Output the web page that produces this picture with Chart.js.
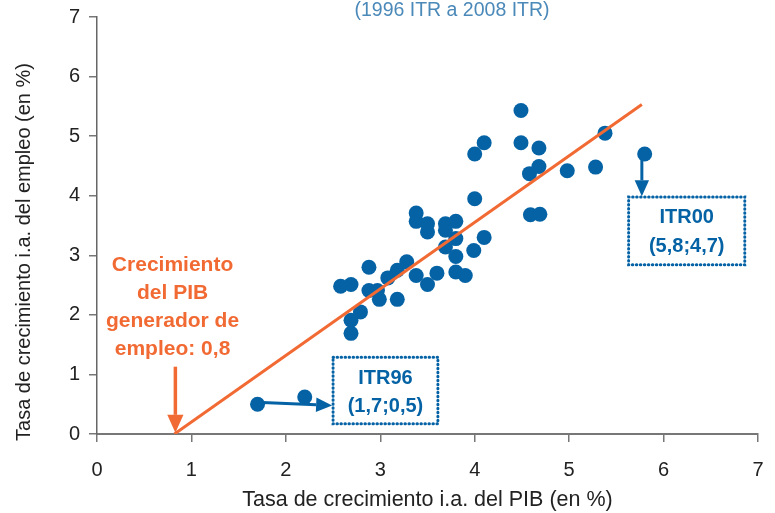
<!DOCTYPE html>
<html lang="es">
<head>
<meta charset="utf-8">
<script src="https://cdn.jsdelivr.net/npm/chart.js@4/dist/chart.umd.min.js"></script>
<style>
  html, body { margin: 0; padding: 0; background: #fff; }
  #wrap { width: 775px; height: 513px; }
</style>
</head>
<body>
<div id="wrap"><canvas id="chart"></canvas></div>
<script>
// crecimiento i.a. del PIB (x) y del empleo (y), trimestres 1996-2008
const pibX = [1.70, 2.20, 2.69, 2.69, 2.79, 2.58, 2.69, 2.88, 2.88, 2.97, 2.99, 3.18,
              3.08, 3.18, 3.28, 3.38, 3.50, 3.60, 3.38, 3.38, 3.50, 3.50, 3.69, 3.80,
              3.69, 3.80, 3.69, 3.80, 3.99, 3.80, 3.90, 4.10, 4.00, 4.00, 4.10, 4.49,
              4.49, 4.58, 4.68, 4.68, 4.98, 5.28, 5.38, 5.80, 4.59, 4.69];
const empleoY = [0.50, 0.62, 1.69, 1.91, 2.05, 2.48, 2.51, 2.80, 2.41, 2.41, 2.26, 2.26,
                 2.62, 2.75, 2.89, 2.66, 2.51, 2.70, 3.71, 3.57, 3.53, 3.39, 3.53, 3.57,
                 3.42, 3.28, 3.14, 2.98, 3.08, 2.72, 2.66, 3.30, 3.95, 4.70, 4.89, 5.43,
                 4.89, 4.37, 4.80, 4.49, 4.42, 4.48, 5.05, 4.70, 3.68, 3.69];

// recta de ajuste: corta el eje x en 0,8
const ajusteX = [0.82, 5.77];
const ajusteY = [0, 5.53];

const xTicks = [0, 1, 2, 3, 4, 5, 6, 7];
const yTicks = [0, 1, 2, 3, 4, 5, 6, 7];

const subtitulo = '(1996 ITR a 2008 ITR)';
const tituloY = 'Tasa de crecimiento i.a. del empleo (en %)';
const notaPib = ['Crecimiento', 'del PIB', 'generador de', 'empleo: 0,8'];
const nota96 = ['ITR96', '(1,7;0,5)'];
const nota00 = ['ITR00', '(5,8;4,7)'];

const azul = '#0563a5';
const naranja = '#f26a33';
const fuente = "'Liberation Sans', Arial, sans-serif";

function flecha(ctx, x1, y1, x2, y2, color, ancho, punta) {
    const ang = Math.atan2(y2 - y1, x2 - x1);
    const bx = x2 - Math.cos(ang) * punta;
    const by = y2 - Math.sin(ang) * punta;
    ctx.save();
    ctx.strokeStyle = color;
    ctx.fillStyle = color;
    ctx.lineWidth = ancho;
    ctx.beginPath();
    ctx.moveTo(x1, y1);
    ctx.lineTo(bx, by);
    ctx.stroke();
    ctx.beginPath();
    ctx.moveTo(x2, y2);
    ctx.lineTo(bx + Math.sin(ang) * punta * 0.45, by - Math.cos(ang) * punta * 0.45);
    ctx.lineTo(bx - Math.sin(ang) * punta * 0.45, by + Math.cos(ang) * punta * 0.45);
    ctx.closePath();
    ctx.fill();
    ctx.restore();
}

function caja(ctx, x1, y1, x2, y2, lineas, filas, sy) {
    ctx.save();
    ctx.strokeStyle = azul;
    ctx.lineWidth = 3;
    ctx.lineCap = 'round';
    ctx.setLineDash([0.5, 3.5]);
    ctx.strokeRect(x1, y1, x2 - x1, y2 - y1);
    ctx.setLineDash([]);
    ctx.fillStyle = azul;
    ctx.font = 'bold 20px ' + fuente;
    ctx.textAlign = 'center';
    ctx.textBaseline = 'middle';
    const cx = (x1 + x2) / 2;
    ctx.fillText(lineas[0], cx, sy.getPixelForValue(filas[0]));
    ctx.fillText(lineas[1], cx, sy.getPixelForValue(filas[1]));
    ctx.restore();
}

const notas = {
    id: 'notas',
    afterDatasetsDraw(chart) {
        const { ctx, scales: { x, y } } = chart;

        ctx.save();
        ctx.textAlign = 'center';
        ctx.textBaseline = 'middle';

        // título del eje y
        ctx.save();
        ctx.fillStyle = '#222';
        ctx.font = '20px ' + fuente;
        ctx.translate(24, 252);
        ctx.rotate(-Math.PI / 2);
        ctx.fillText(tituloY, 0, 0);
        ctx.restore();

        // subtítulo cortado arriba
        ctx.fillStyle = '#4b89b9';
        ctx.font = "19.5px 'Liberation Sans Narrow', " + fuente;
        ctx.fillText(subtitulo, 452, 11);

        // texto naranja
        ctx.fillStyle = naranja;
        ctx.font = 'bold 21px ' + fuente;
        const filas = [2.84, 2.37, 1.90, 1.43];
        notaPib.forEach((t, i) => ctx.fillText(t, x.getPixelForValue(0.8), y.getPixelForValue(filas[i])));
        ctx.restore();

        flecha(ctx, x.getPixelForValue(0.83), y.getPixelForValue(1.13),
               x.getPixelForValue(0.83), y.getPixelForValue(0.02), naranja, 3.5, 18);

        // ITR96
        flecha(ctx, x.getPixelForValue(1.75), y.getPixelForValue(0.53),
               x.getPixelForValue(2.49), y.getPixelForValue(0.48), azul, 3, 16);
        caja(ctx, x.getPixelForValue(2.50), y.getPixelForValue(1.29),
             x.getPixelForValue(3.61), y.getPixelForValue(0.17), nota96, [0.94, 0.47], y);

        // ITR00
        flecha(ctx, x.getPixelForValue(5.77), y.getPixelForValue(4.70),
               x.getPixelForValue(5.77), y.getPixelForValue(3.99), azul, 3, 16);
        caja(ctx, x.getPixelForValue(5.63), y.getPixelForValue(3.98),
             x.getPixelForValue(6.86), y.getPixelForValue(2.84), nota00, [3.64, 3.14], y);
    }
};

new Chart(document.getElementById('chart'), {
    type: 'scatter',
    data: {
        datasets: [
            {
                type: 'line',
                data: ajusteX.map((v, i) => ({ x: v, y: ajusteY[i] })),
                borderColor: naranja,
                borderWidth: 3,
                pointRadius: 0,
                fill: false,
                order: 0
            },
            {
                data: pibX.map((v, i) => ({ x: v, y: empleoY[i] })),
                backgroundColor: azul,
                borderWidth: 0,
                pointRadius: 7.5,
                order: 1
            }
        ]
    },
    options: {
        responsive: true,
        maintainAspectRatio: false,
        animation: false,
        layout: { padding: { top: 17, right: 17, left: 0, bottom: 0 } },
        plugins: {
            legend: { display: false },
            tooltip: { enabled: false }
        },
        scales: {
            x: {
                type: 'linear',
                min: 0, max: 7,
                afterBuildTicks: s => { s.ticks = xTicks.map(v => ({ value: v })); },
                afterFit: s => { s.height = 79; s.paddingLeft = 0; s.paddingRight = 0; },
                grid: { drawOnChartArea: false, tickLength: 8, color: '#777', lineWidth: 1.5 },
                border: { color: '#777', width: 2 },
                ticks: { padding: 16, color: '#222', font: { family: fuente, size: 20 } },
                title: {
                    display: true,
                    text: 'Tasa de crecimiento i.a. del PIB (en %)',
                    color: '#222',
                    font: { family: fuente, size: 21.5 },
                    padding: { top: 0, bottom: 0 }
                }
            },
            y: {
                type: 'linear',
                min: 0, max: 7,
                afterBuildTicks: s => { s.ticks = yTicks.map(v => ({ value: v })); },
                afterFit: s => { s.width = 97; s.paddingTop = 0; s.paddingBottom = 0; },
                grid: { drawOnChartArea: false, tickLength: 8, color: '#777', lineWidth: 1.5 },
                border: { color: '#666', width: 1.5 },
                ticks: { padding: 9, color: '#222', font: { family: fuente, size: 20 } }
            }
        }
    },
    plugins: [notas]
});
</script>
</body>
</html>
